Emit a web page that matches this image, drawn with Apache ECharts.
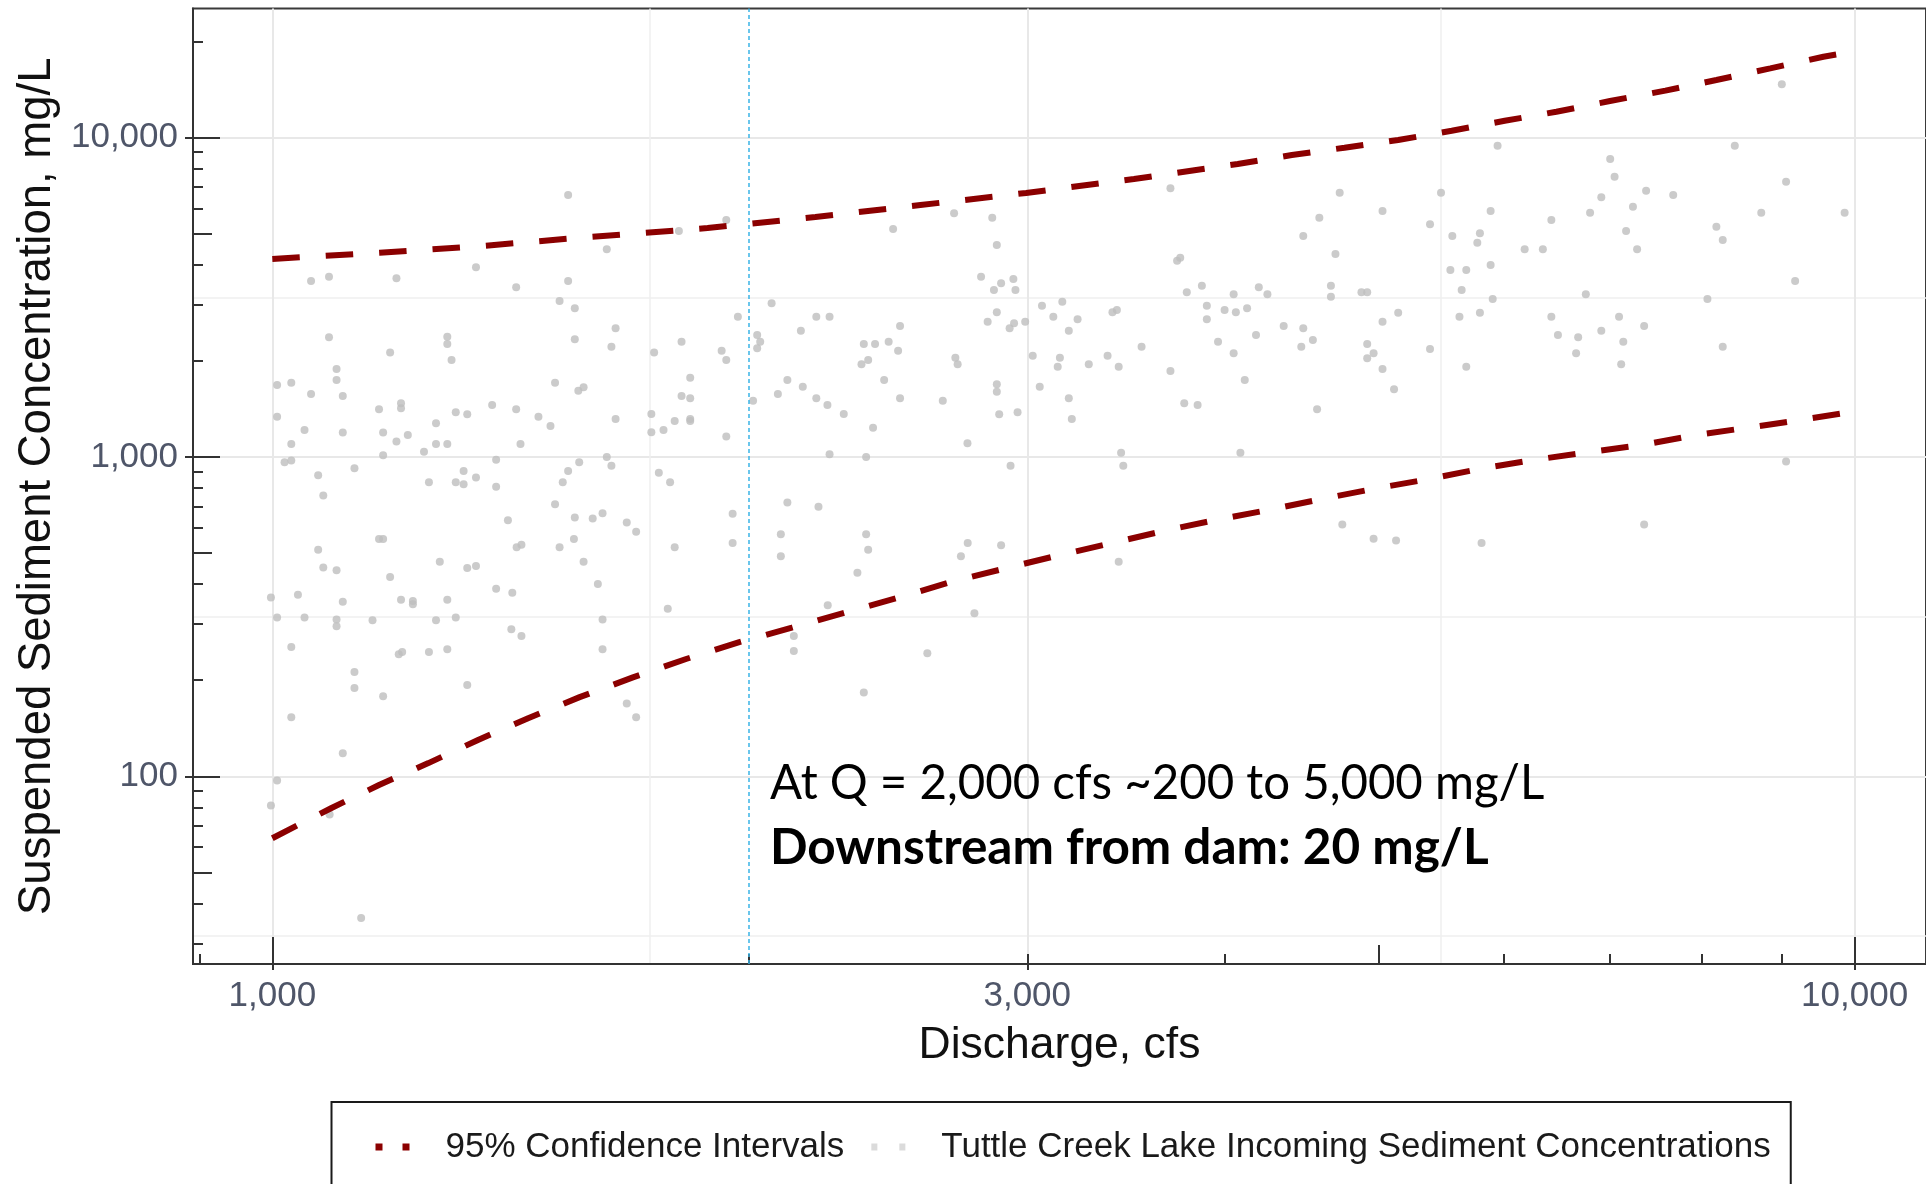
<!DOCTYPE html>
<html>
<head>
<meta charset="utf-8">
<script src="https://cdn.jsdelivr.net/npm/echarts@6/dist/echarts.min.js"></script>
<style>
html,body{margin:0;padding:0;background:#ffffff;}
#chart{width:1926px;height:1184px;}
</style>
</head>
<body>
<div id="chart"></div>
<script>
// ---------------- data ----------------
const obsName = 'Tuttle Creek Lake Incoming Sediment Concentrations';
const ciName = '95% Confidence Intervals';

// Observed discharge (cfs) and suspended sediment concentration (mg/L)
const obsQ = [
  1538,1345,1058,1086,1198,1426,1538,1519,1553,1086,1290,
  1290,1187,1298,1553,1098,1098,1007,1028,1058,1108,1509,
  1561,1573,1168,1206,1206,1007,1048,1108,1175,1198,1218,
  1269,1306,1328,1377,1426,1473,1499,1028,1269,1290,1435,
  1175,1247,1385,1563,1538,1526,1321,1345,1306,1321,1256,1385,
  1127,1069,1077,1018,1028,1509,1553,1409,1594,1069,1077,1098,
  1168,1175,1187,1276,1328,1345,1427,1437,1519,1551,1573,1606,
  1385,1418,998,1038,1108,1206,1227,1227,1290,1007,1048,1098,
  1098,1157,1269,1306,1028,1202,1208,1256,1290,1416,1437,1127,
  1127,1175,1328,1028,1108,1007,998,1087,1138,
  1627,1807,1936,2468,2697,2851,2870,3695,3731,3748,2805,2888,
  2940,2858,2949,3784,3868,4051,1648,1638,1743,1814,1923,1936,
  1969,2068,2025,2034,2025,2158,2207,2250,2365,2404,2452,2493,
  2486,2357,2380,2870,2832,2924,2943,2991,3065,3116,3157,3228,
  3187,3396,3418,3543,3896,3896,3998,4064,4131,3960,4051,1648,
  1736,1736,1767,1796,1814,1837,1837,1837,1837,1936,2013,2087,
  2116,2164,2207,2243,2297,2436,2493,2397,2653,2702,2711,2750,
  2870,2870,2880,2958,3024,3055,3146,3136,3187,3201,3281,3372,
  3427,3695,3770,3844,4117,
  1627,1638,1755,1784,2250,2373,2928,3439,3450,4091,1617,1675,
  1698,1796,1954,1954,2116,2214,2096,2096,2373,2380,2343,2751,
  2724,2888,3427,1778,1617,1617,2244,2136,2136,2778,2594,2365,
  1675,1698,
  8995,5948,8400,7007,7052,9051,4727,5478,7383,7680,6917,4589,
  5031,5888,8730,9856,6805,7243,6432,5391,4483,5569,5797,5775,
  7171,8178,8254,4698,6187,6353,7287,5553,5683,5888,9171,4202,
  4255,4667,4667,4879,4920,5645,5906,6763,8072,4185,4357,4483,
  4470,4546,5031,5147,4920,4920,4966,5031,5116,5391,5627,5797,
  5683,6432,6494,6688,6668,6917,7098,7142,7120,7362,8254,4574,
  9051,4745,4966,5131,5811,7362
];
const obsC = [
  6607,3926,3556,3668,3626,3398,3556,3079,2921,2370,2381,
  2258,2122,2013,2336,1886,1742,1680,1708,1575,1552,1708,
  1613,1653,1410,1473,1421,1337,1215,1192,1192,1117,1172,
  1275,1380,1361,1455,1410,1337,1250,1098,1098,1098,1098,
  1012,1038,980,962,904,833,904,863,833,821,833,807,
  922,876,757,962,975,711,646,634,642,512,451,442,
  554,554,421,470,449,456,522,531,522,554,470,400,
  387,376,363,370,352,357,354,346,357,314,314,310,
  295,308,308,314,254,241,245,245,250,289,275,212,
  189,178,193,153,118,97,81,76,36,
  4470,5100,5521,5173,5794,5613,4610,6938,4118,4207,3668,3498,
  3609,3333,3333,3280,3439,3232,2529,2214,2122,2296,2152,2013,
  2750,3028,2410,2296,2189,2485,2750,2750,2258,2258,2296,2571,
  2152,1951,2013,2838,2652,2529,2622,2652,2977,2750,3064,2698,
  2485,2838,2885,2214,2977,2698,2885,2838,2921,2296,2112,1315,
  1363,1195,1215,1297,1552,1771,1527,1315,1297,1158,1501,1575,
  1742,1660,1527,1455,1363,1742,1527,1235,1501,2046,1951,1104,
  1689,1601,1361,1380,2076,1660,2046,1917,1527,1315,1951,2076,
  1917,1859,1473,1455,1742,
  1000,938,892,833,1020,1000,938,1031,938,1031,667,623,
  583,522,664,538,720,698,573,489,573,512,434,538,
  489,529,470,335,310,250,343,275,247,324,243,183,
  169,153,
  14690,9435,9435,8570,7545,7276,6722,6722,6821,6607,6503,5613,
  5891,5891,5820,5820,5820,6077,5521,5353,4920,4920,5017,4688,
  5100,5260,4780,4321,4470,4470,4470,3850,3850,3991,3556,3398,
  3232,3439,3176,3280,3280,3333,3124,3232,3124,2410,2571,2529,
  2214,2324,2652,2830,2258,2037,2112,1886,1629,2178,2750,2830,
  1917,2750,2410,2370,2112,2485,2750,2296,1951,2571,2214,1410,
  967,614,555,548,538,614
];

// 95% confidence interval bands (upper and lower)
const ciUpperQ = [1000,1169,1359,1588,1717,1884,2204,2568,2995,3504,4075,4409,4760,5147,5564,6010,6479,7005,7593,8178,8845,9556,9856];
const ciUpper  = [4170,4360,4580,4890,5030,5210,5640,6150,6710,7420,8270,8820,9300,9830,10510,11290,12050,13020,14030,15150,16480,17920,18400];
const ciLowerQ = [1000,1090,1168,1255,1349,1451,1564,1690,1826,1973,2130,2308,2498,2690,2906,3140,3395,3666,3960,4271,4620,5003,5391,5825,6288,6782,7340,7943,8561,9243,9856];
const ciLower  = [64,79.6,93.9,110,130,152,177,204,233,263,292,327,365,407,448,492,538,588,637,684,741,800,854,922,981,1034,1090,1172,1235,1306,1372];

// reference discharge marked by the vertical dashed line
const refQ = [2000];

// axis ranges and tick positions
const xRange = [891, 11095];
const yRange = [25.84, 25370];
const xLabelTicks = [1000, 3000, 10000];
const xLongTicks = [1000, 10000];
const xMidTicks = [5000];
const xShortTicks = [900, 2000, 3000, 4000, 6000, 7000, 8000, 9000];
const xMinorGrid = [1732, 5477];
const yLabelTicks = [100, 1000, 10000];
const yLongTicks = [100, 1000, 10000];
const yMidTicks = [50, 500, 5000];
const yShortTicks = [30, 40, 60, 70, 80, 90, 200, 300, 400, 600, 700, 800, 900, 2000, 3000, 4000, 6000, 7000, 8000, 9000, 20000];
const yMinorGrid = [31.6, 316, 3162];

const annotationLines = ['At Q = 2,000 cfs ~200 to 5,000 mg/L', 'Downstream from dam: 20 mg/L'];

// ---------------- chart ----------------
const FONT = 'Liberation Sans';
const AXIS_COLOR = '#333333';
const LABEL_COLOR = '#4f5669';
const fmt = v => Math.round(v).toLocaleString('en-US');

function baseAxis(dim) {
  return {
    type: 'log', logBase: 10, gridIndex: 0,
    min: dim === 'x' ? xRange[0] : yRange[0],
    max: dim === 'x' ? xRange[1] : yRange[1],
    position: dim === 'x' ? 'bottom' : 'left',
    axisLine: {show: false, onZero: false},
    axisLabel: {show: false},
    axisTick: {show: false},
    splitLine: {show: false},
    minorTick: {show: false},
    minorSplitLine: {show: false},
    silent: true
  };
}
function tickAxis(dim, values, length, inside) {
  const a = baseAxis(dim);
  a.axisTick = {show: true, inside: inside, length: length, customValues: values,
                lineStyle: {color: AXIS_COLOR, width: 2}};
  return a;
}
function gridAxis(dim, values, color, width) {
  const a = baseAxis(dim);
  a.axisTick = {show: false, customValues: values};
  a.splitLine = {show: true, lineStyle: {color: color, width: width}};
  return a;
}

const mainX = baseAxis('x');
mainX.axisLine = {show: true, onZero: false, lineStyle: {color: AXIS_COLOR, width: 2}};
mainX.axisTick = {show: true, inside: false, length: 6, customValues: xLabelTicks,
                  lineStyle: {color: AXIS_COLOR, width: 2}};
mainX.axisLabel = {show: true, customValues: xLabelTicks, formatter: fmt, margin: 15,
                   fontFamily: FONT, fontSize: 35, color: LABEL_COLOR};
mainX.name = 'Discharge, cfs';
mainX.nameLocation = 'middle';
mainX.nameGap = 59;
mainX.nameTextStyle = {fontFamily: FONT, fontSize: 44.5, color: '#111111'};

const mainY = baseAxis('y');
mainY.axisLine = {show: true, onZero: false, lineStyle: {color: AXIS_COLOR, width: 2}};
mainY.axisTick = {show: true, inside: false, length: 8, customValues: yLabelTicks,
                  lineStyle: {color: AXIS_COLOR, width: 2}};
mainY.axisLabel = {show: true, customValues: yLabelTicks, formatter: fmt, margin: 15,
                   fontFamily: FONT, fontSize: 35, color: LABEL_COLOR};
mainY.name = 'Suspended Sediment Concentration, mg/L';
mainY.nameLocation = 'middle';
mainY.nameGap = 133;
mainY.nameRotate = 90;
mainY.nameTextStyle = {fontFamily: FONT, fontSize: 45.5, color: '#111111'};

const xAxes = [
  mainX,
  tickAxis('x', xLongTicks, 27, true),
  tickAxis('x', xMidTicks, 19, true),
  tickAxis('x', xShortTicks, 10, true),
  gridAxis('x', xLabelTicks, '#e8e8e8', 2),
  gridAxis('x', xMinorGrid, '#efefef', 1.5)
];
const yAxes = [
  mainY,
  tickAxis('y', yLongTicks, 27, true),
  tickAxis('y', yMidTicks, 19, true),
  tickAxis('y', yShortTicks, 10, true),
  gridAxis('y', yLabelTicks, '#e8e8e8', 2),
  gridAxis('y', yMinorGrid, '#efefef', 1.5)
];

const zip = (a, b) => a.map((v, i) => [v, b[i]]);

const chart = echarts.init(document.getElementById('chart'), null, {renderer: 'canvas'});
chart.setOption({
  animation: false,
  backgroundColor: '#ffffff',
  textStyle: {fontFamily: FONT},
  grid: {left: 193, top: 8.5, right: -4, bottom: 220, show: true,
         borderColor: '#3a3a3a', borderWidth: 2, backgroundColor: 'transparent'},
  xAxis: xAxes,
  yAxis: yAxes,
  legend: {
    left: 331.5, top: 1102, orient: 'horizontal',
    padding: [25, 20, 60, 44],
    itemGap: 27, itemWidth: 34, itemHeight: 7,
    borderColor: '#1a1a1a', borderWidth: 2, backgroundColor: '#ffffff',
    selectedMode: false,
    textStyle: {fontFamily: FONT, fontSize: 35, color: '#1a1a1a', lineHeight: 40, padding: [0, 0, 0, 31]},
    data: [
      {name: ciName, icon: 'path://M0,0h7v7h-7z M27,0h7v7h-7z', itemStyle: {color: '#8b0000', borderWidth: 0}},
      {name: obsName, icon: 'path://M0,0h6v7h-6z M28,0h6v7h-6z', itemStyle: {color: '#d2d2d2', borderWidth: 0}}
    ]
  },
  series: [
    {
      name: obsName, type: 'scatter', xAxisIndex: 0, yAxisIndex: 0,
      data: zip(obsQ, obsC), symbol: 'circle', symbolSize: 8,
      itemStyle: {color: '#bebebe'}, z: 2,
      markLine: {
        silent: true, symbol: ['none', 'none'], label: {show: false},
        lineStyle: {color: '#3ab4e6', width: 1.5, type: [4, 3]},
        data: refQ.map(q => ({xAxis: q}))
      }
    },
    {
      name: ciName, type: 'line', xAxisIndex: 0, yAxisIndex: 0,
      data: zip(ciUpperQ, ciUpper), showSymbol: false, symbol: 'none', smooth: false,
      lineStyle: {color: '#8b0000', width: 6, type: [27.5, 26], cap: 'butt'},
      itemStyle: {color: '#8b0000'}, z: 3
    },
    {
      name: ciName, type: 'line', xAxisIndex: 0, yAxisIndex: 0,
      data: zip(ciLowerQ, ciLower), showSymbol: false, symbol: 'none', smooth: false,
      lineStyle: {color: '#8b0000', width: 6, type: [27.5, 26], cap: 'butt'},
      itemStyle: {color: '#8b0000'}, z: 3
    }
  ],
  graphic: [
    {type: 'text', x: 770, y: 784, silent: true, z: 100, zlevel: 0,
     style: {text: annotationLines[0], fontFamily: 'Lato', fontSize: 47.4, fontWeight: 'normal',
             fill: '#000000', align: 'left', verticalAlign: 'middle'}},
    {type: 'text', x: 770, y: 848, silent: true, z: 100, zlevel: 0,
     style: {text: annotationLines[1], fontFamily: 'Lato', fontSize: 49.5, fontWeight: 'bold',
             fill: '#000000', align: 'left', verticalAlign: 'middle'}}
  ]
});
</script>
</body>
</html>
